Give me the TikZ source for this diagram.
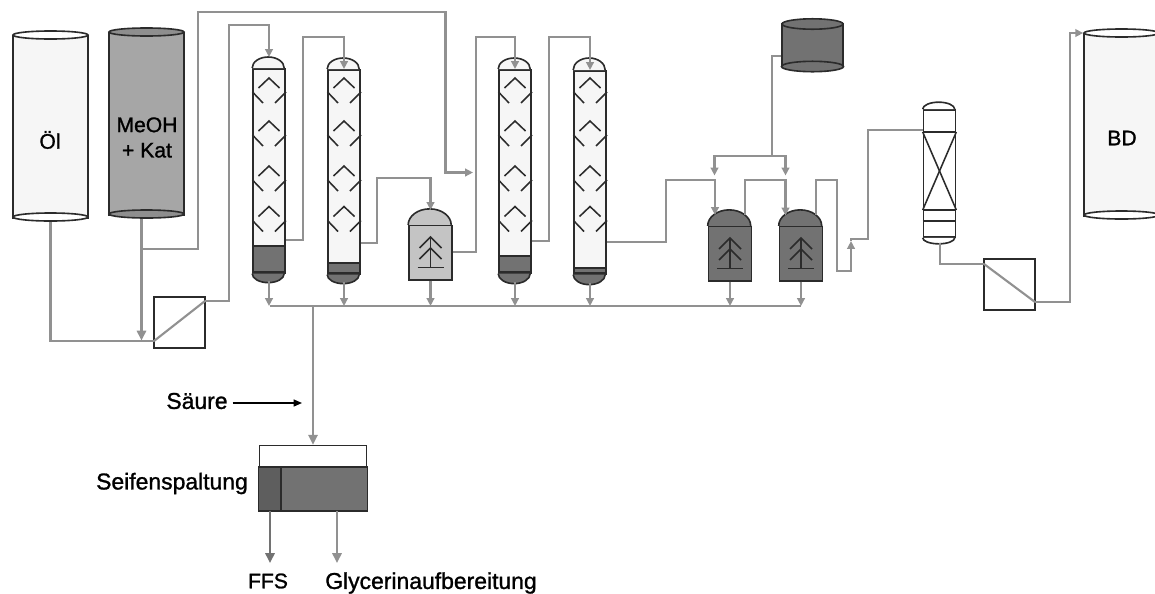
\documentclass[tikz,border=0pt]{standalone}
\usepackage{fontspec}
\setmainfont{Liberation Sans}
\newfontfamily\labfont[FakeBold=1.2]{Liberation Sans}
\usepackage{xcolor}
\usetikzlibrary{arrows.meta,positioning,shapes.geometric}
\definecolor{cbPipe}{HTML}{919191}
\definecolor{cbLine}{HTML}{2B2B2B}
\definecolor{cbPale}{HTML}{F6F6F6}
\definecolor{cbLight}{HTML}{C4C4C4}
\definecolor{cbMid}{HTML}{A6A6A6}
\definecolor{cbMidLid}{HTML}{8E8E8E}
\definecolor{cbDark}{HTML}{727272}
\definecolor{cbDarker}{HTML}{5E5E5E}

\begin{document}
\begin{tikzpicture}[
  x=0.025cm, y=-0.025cm,
  lab/.style={font=\labfont\fontsize{16.3pt}{18pt}\selectfont, align=center, text=black},
  labsmall/.style={font=\labfont\fontsize{15pt}{18pt}\selectfont, align=center, text=black},
  equip/.style={draw=cbLine, line width=1.15pt, inner sep=0pt},
  lid/.style={equip, ellipse, minimum width=#1, minimum height=0.2cm},
  inner/.style={color=cbLine, line width=1.1pt},
  pipe/.style={color=cbPipe, line width=1.5pt},
  pipetip/.style={pipe, -{Triangle[length=5.6pt,width=5.4pt]}},
  pipebig/.style={pipe, -{Triangle[length=7pt,width=6.6pt]}}
]
\useasboundingbox (0,0) rectangle (1155,593);
\clip (0,0) rectangle (1155,593);
% storage tanks
\foreach \tnk/\cx/\ytop/\ybot/\bodyfill/\lidfill in {tankOel/50.5/35/217/cbPale/white, tankMeoh/146.5/32/214/cbMid/cbMidLid, tankBd/1121.5/33/215/cbPale/white}{
  \node[equip, fill=\bodyfill, anchor=north, minimum width=1.875cm, minimum height={(\ybot-\ytop)*0.025cm}] (\tnk) at (\cx,\ytop) {};
  \node[lid=1.875cm, fill=\lidfill] (\tnk-top) at (\cx,\ytop) {};
  \node[lid=1.875cm, fill=\lidfill] (\tnk-bot) at (\cx,\ybot) {};
}
\node[equip, fill=cbDark, minimum width=1.525cm, minimum height=1.05cm] (tankVent) at (812.5,45) {};
\node[lid=1.525cm, fill=cbDark, minimum height=0.26cm] (tankVent-top) at (812.5,24) {};
\node[lid=1.55cm, fill=cbDark, minimum height=0.26cm] (tankVent-bot) at (812.5,66.5) {};
\node[labsmall] (lblOel) at (50,140) {Öl};
\node[labsmall] (lblMeoh) at (147,137.5) {MeOH\\+ Kat};
\node[labsmall] (lblBd) at (1122,138) {BD};
% reaction columns
\foreach \col/\cx/\ytop/\yline/\yliq/\ylow/\ybot in {col1/269/57/68/246/272/281, col2/344/58/69/263/273/282, col3/515/58/69/256/272/282, col4/590/58/70/268/273/283}{
  \node[equip, fill=cbPale, anchor=north, minimum width=0.8cm, minimum height={(\ylow-\yline)*0.025cm}] (\col) at (\cx,\yline) {};
  \draw[equip, fill=cbPale] (\col.north west) arc[start angle=180, end angle=0, x radius=0.4cm, y radius={(\yline-\ytop)*0.025cm}];
  \draw[equip, fill=cbDark] (\col.south west) arc[start angle=180, end angle=360, x radius=0.4cm, y radius={(\ybot-\ylow)*0.025cm}];
  \draw[equip, fill=cbDark] ({\cx-16},\yliq) rectangle ({\cx+16},\ylow);
  \coordinate (\col-top) at (\cx,\ytop);
  \coordinate (\col-bot) at (\cx,\ybot);
  \foreach \ya in {78,121,166,206.5}{
    \draw[inner] ({\cx-10.5},\ya+10) -- (\cx,\ya) -- ({\cx+10.5},\ya+10);
    \draw[inner] ({\cx-16.5},\ya+14) -- ({\cx-6},\ya+25);
    \draw[inner] ({\cx+17},\ya+14) -- ({\cx+6},\ya+25);
  }
}
% settlers
\foreach \ves/\cx/\ybot/\vesfill in {vesA/430.5/280.5/cbLight, vesB/730/281.5/cbDark, vesC/801/281.5/cbDark}{
  \node[equip, fill=\vesfill, anchor=south, minimum width=1.075cm, minimum height=1.35cm] (\ves) at (\cx,\ybot) {};
  \draw[equip, fill=\vesfill] (\ves.north west) arc[start angle=180, end angle=0, x radius=0.5375cm, y radius=0.4cm];
  \coordinate (\ves-top) at (\cx,\ybot-70.5);
  \draw[inner] (\cx,\ybot-43.5) -- (\cx,\ybot-13);
  \draw[inner] ({\cx-13},\ybot-13) -- ({\cx+13},\ybot-13);
  \foreach \yt in {43.5,32.5}{
    \draw[inner] ({\cx-11},\ybot-\yt+11) -- (\cx,\ybot-\yt) -- ({\cx+11},\ybot-\yt+11);
  }
}
% polishing column
\node[equip, fill=white, minimum width=0.8cm, minimum height=3.175cm] (col5) at (939.5,173.5) {};
\draw[equip, fill=white] (col5.north west) arc[start angle=180, end angle=0, x radius=0.4cm, y radius=0.175cm];
\draw[equip, fill=white] (col5.south west) arc[start angle=180, end angle=360, x radius=0.4cm, y radius=0.15cm];
\coordinate (col5-bot) at (940,243);
\foreach \ybed in {132,210,221}{
  \draw[inner] (col5.west |- 0,\ybed) -- (col5.east |- 0,\ybed);
}
\draw[inner] (col5.west |- 0,132) -- (col5.east |- 0,210);
\draw[inner] (col5.east |- 0,132) -- (col5.west |- 0,210);
% membrane units
\node[equip, fill=white, minimum size=1.275cm] (memA) at (179.5,322.5) {};
\node[equip, fill=white, minimum size=1.275cm] (memB) at (1009.5,284.5) {};
\coordinate (memAin) at (154,341);
\coordinate (memAout) at (205,301);
\coordinate (memBin) at (984,264);
\coordinate (memBout) at (1035,302);
\draw[pipe] (memAin) -- (memAout);
\draw[pipe] (memBin) -- (memBout);
% feed lines
\coordinate (meohOut) at (141.5,218.5);
\coordinate (memAfeed) at (141.5,340.5);
\coordinate (branchA) at (141.5,249);
\coordinate (col3feed) at (473,172.5);
\draw[pipe] (tankOel-bot.south) |- (memAin);
\draw[pipebig] (meohOut) -- (memAfeed);
\draw[pipetip] (branchA) -- (198,249) -- (198,12) -- (445.5,12) -- (445.5,172.5) -- (col3feed);
\draw[pipetip] (memAout) -- (229,301) -- (229,25) -| (col1-top);
\draw[pipetip] (col1.east |- 0,240) -- (303,240) -- (303,37) -| (col2.north);
\draw[pipetip] (col2.east |- 0,243) -- (377,243) -- (377,178) -| (vesA-top);
\draw[pipetip] (vesA.east |- 0,252) -- (476,252) -- (476,37) -| (col3.north);
\draw[pipetip] (col3.east |- 0,241) -- (549,241) -- (549,37) -| (col4.north);
\coordinate (vesBin) at (715,215);
\coordinate (vesCin) at (785.5,215.5);
\coordinate (vesBout) at (745,215);
\coordinate (vesCout) at (816,215);
\coordinate (polFeed) at (851,241);
\draw[pipetip] (col4.east |- 0,242) -- (666,242) -- (666,180) -| (vesBin);
\draw[pipetip] (vesBout) -- (745,180) -| (vesCin);
\draw[pipetip] (vesCout) -- (816,180) -- (837,180) -- (837,271) -- (851,271) -- (polFeed);
\draw[pipe] (polFeed) -- (851,239) -- (868,239) -- (868,130) -- (col5.west |- 0,130);
\draw[pipe] (col5-bot) |- (memBin);
\draw[pipetip] (memBout) -- (1070,302) -- (1070,33) -- (tankBd-top.west);
% methanol from vent tank
\coordinate (ventJ) at (772,156);
\coordinate (ventL) at (714.5,175.5);
\coordinate (ventR) at (785.5,175.5);
\draw[pipe] (tankVent.west |- 0,56) -- (772,56) -- (ventJ);
\draw[pipetip] (ventJ) -| (ventL);
\draw[pipetip] (ventJ) -| (ventR);
% collector line
\coordinate (sumA) at (270,306);
\coordinate (sumB) at (801,306);
\coordinate (sumDrop) at (313,306);
\draw[pipe] (sumA) -- (sumB);
\foreach \col in {col1,col2,col3,col4}{
  \draw[pipetip] (\col-bot) -- (\col-bot |- sumA);
}
\foreach \ves in {vesA,vesB,vesC}{
  \draw[pipetip] (\ves.south) -- (\ves.south |- sumA);
}
% soap splitting
\node[equip, fill=white, minimum width=2.675cm, minimum height=1.6125cm] (split) at (313,477.75) {};
\draw[equip, fill=cbDark] (split.west |- 0,467) rectangle (split.south east);
\draw[equip, fill=cbDarker] (split.west |- 0,467) rectangle (split.south -| 281,0);
\draw[pipebig] (sumDrop) -- (split.north);
\coordinate (ffsEnd) at (270,563);
\coordinate (glyEnd) at (337,563);
\draw[pipebig, color=cbDark] (split.south -| ffsEnd) -- (ffsEnd);
\draw[pipebig] (split.south -| glyEnd) -- (glyEnd);
\node[lab] (lblSaeure) at (197,401) {Säure};
\coordinate (saeureEnd) at (302,403);
\draw[black, line width=1pt, -{Triangle[length=6pt,width=5pt]}] (lblSaeure.east |- saeureEnd) -- (saeureEnd);
\node[lab] (lblSplit) at (172,483.5) {Seifenspaltung};
\node[labsmall] (lblFfs) at (268,581) {FFS};
\node[lab] (lblGly) at (431,583) {Glycerinaufbereitung};
\end{tikzpicture}
\end{document}
